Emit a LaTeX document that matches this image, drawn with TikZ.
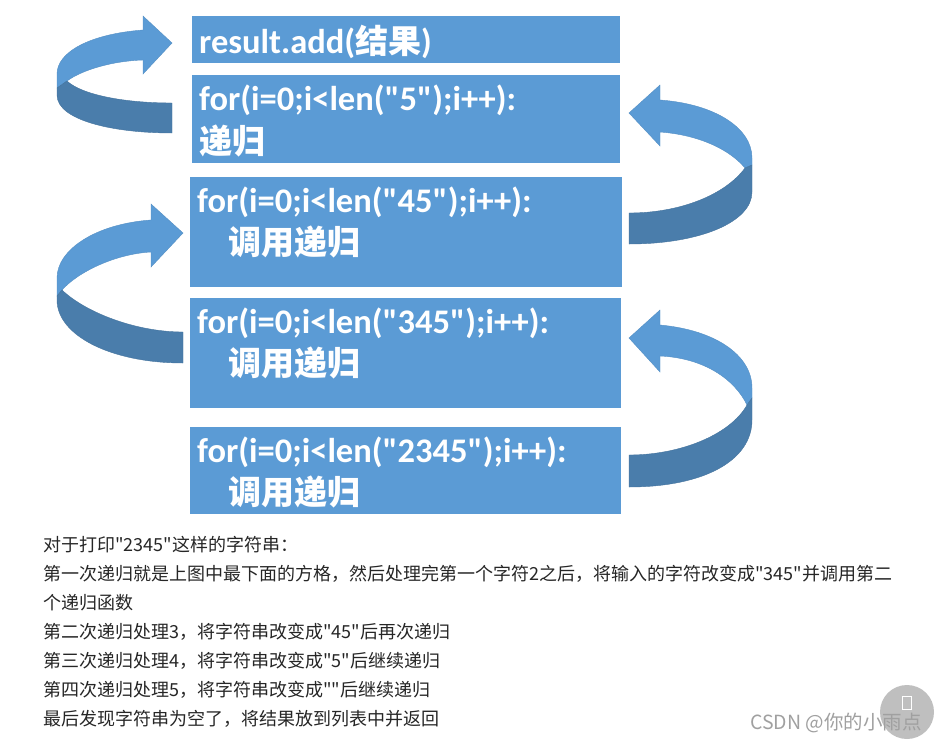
\documentclass[tikz,border=0pt]{standalone}
\usepackage{fontspec}
\newfontfamily\cjk{Noto Sans CJK SC}
\newfontfamily\latin{Carlito}
\usetikzlibrary{positioning}
\definecolor{boxblue}{HTML}{5B9BD5}
\definecolor{ribdark}{HTML}{4A7DAB}
\definecolor{notegray}{HTML}{262626}
\definecolor{markgray}{HTML}{A0A0A0}
\newcommand\zh[1]{{\cjk\bfseries\fontsize{33}{40}\selectfont #1}}

\begin{document}
\begin{tikzpicture}[x=1pt, y=-1pt,
    blk/.style={fill=boxblue, draw=none, inner sep=0pt, anchor=north west},
    code/.style={text=white, font=\latin\bfseries\fontsize{34.5}{40}\selectfont, inner sep=0pt, anchor=base west},
    note/.style={text=notegray, font=\cjk\fontsize{18}{22}\selectfont, inner sep=0pt, anchor=base west},
    lite/.style={fill=boxblue, draw=boxblue!92!black, line width=0.4pt},
    dark/.style={fill=ribdark, draw=ribdark!92!black, line width=0.4pt}]
    \useasboundingbox (0,0) rectangle (935,742);

    % 方格
    \node[blk, minimum width=428, minimum height=47] (b1) at (192,16) {};
    \node[blk, minimum width=428, minimum height=88] (b2) at (192,75) {};
    \node[blk, minimum width=432, minimum height=110] (b3) at (190,177) {};
    \node[blk, minimum width=431, minimum height=110] (b4) at (190,298) {};
    \node[blk, minimum width=431, minimum height=87] (b5) at (190,427) {};

    % 方格中的代码
    \node[code] (t1) at (199,53) {result.add(\zh{结果})};
    \node[code] (t2) at (199,110) {for(i=0;i<len("5");i++):};
    \node[code] (c2) at (199,153) {\zh{递归}};
    \node[code] (t3) at (197,212) {for(i=0;i<len("45");i++):};
    \node[code] (c3) at (228,254) {\zh{调用递归}};
    \node[code] (t4) at (197,333) {for(i=0;i<len("345");i++):};
    \node[code] (c4) at (228,375) {\zh{调用递归}};
    \node[code] (t5) at (197,462) {for(i=0;i<len("2345");i++):};
    \node[code] (c5) at (228,504) {\zh{调用递归}};

    % 左上箭头: "5" -> 结果
    \filldraw[lite] (172,43) -- (143,16) -- (143,30) .. controls (90,34) and (57,52) .. (57,74)
        -- (57,88) -- (67,81) .. controls (82,70) and (112,61) .. (143,60) -- (143,74) -- cycle;
    \filldraw[dark] (67,81) .. controls (82,95) and (125,103) .. (172,103) -- (172,133)
        .. controls (112,133) and (57,120) .. (57,95) -- (57,88) -- cycle;

    % 右上箭头: "45" -> "5"
    \filldraw[lite] (629,113) -- (660,85) -- (660,100) .. controls (715,104) and (752,128) .. (752,158)
        -- (752,165) -- (745,168) .. controls (730,150) and (700,135) .. (660,132) -- (660,146) -- cycle;
    \filldraw[dark] (745,168) .. controls (725,195) and (680,213) .. (629,213) -- (629,244)
        .. controls (700,244) and (752,222) .. (752,192) -- (752,165) -- cycle;

    % 左下箭头: "345" -> "45"
    \filldraw[lite] (183,233) -- (151,204) -- (151,220) .. controls (95,224) and (57,250) .. (57,278)
        -- (57,296) -- (62,290) .. controls (78,272) and (115,254) .. (151,252) -- (151,267) -- cycle;
    \filldraw[dark] (62,290) .. controls (85,312) and (135,332) .. (183,332) -- (183,363)
        .. controls (110,363) and (57,335) .. (57,300) -- (57,296) -- cycle;

    % 右下箭头: "2345" -> "345"
    \filldraw[lite] (629,338) -- (660,310) -- (660,325) .. controls (715,330) and (752,355) .. (752,388)
        -- (752,398) -- (747,405) .. controls (735,380) and (705,358) .. (660,356) -- (660,372) -- cycle;
    \filldraw[dark] (747,405) .. controls (730,435) and (680,455) .. (629,455) -- (629,487)
        .. controls (705,487) and (752,460) .. (752,420) -- (752,398) -- cycle;

    % 说明文字
    \node[note] (n1) at (43,551) {对于打印"2345"这样的字符串：};
    \node[note] (n2) at (43,580) {第一次递归就是上图中最下面的方格，然后处理完第一个字符2之后，将输入的字符改变成"345"并调用第二};
    \node[note] (n3) at (43,609) {个递归函数};
    \node[note] (n4) at (43,638) {第二次递归处理3，将字符串改变成"45"后再次递归};
    \node[note] (n5) at (43,667) {第三次递归处理4，将字符串改变成"5"后继续递归};
    \node[note] (n6) at (43,696) {第四次递归处理5，将字符串改变成""后继续递归};
    \node[note] (n7) at (43,725) {最后发现字符串为空了，将结果放到列表中并返回};

    % 水印
    \node[circle, fill=black!25, minimum size=54, inner sep=0pt] (btn) at (907,712) {};
    \node[draw=white, line width=1.2pt, minimum width=9, minimum height=13, inner sep=0pt] (ico) at (907,703) {};
    \node[note, text=markgray, font=\cjk\fontsize{19.5}{22}\selectfont] (wm) at (750,729) {CSDN @你的小雨点};
\end{tikzpicture}
\end{document}
